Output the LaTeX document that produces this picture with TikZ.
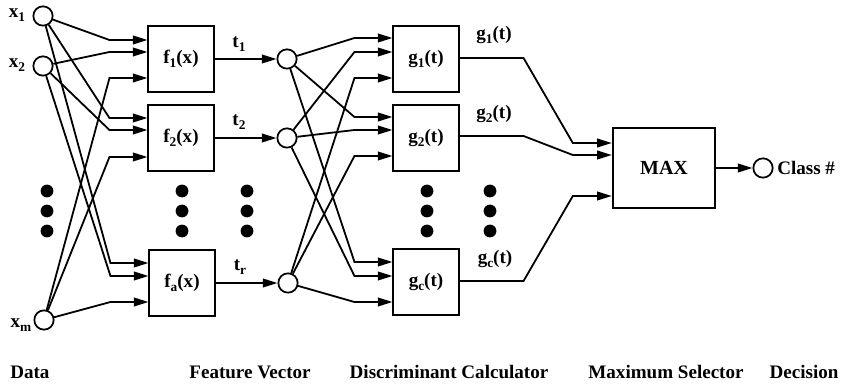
\documentclass[tikz,border=0pt]{standalone}
\usepackage{fontspec}
\setmainfont{Liberation Serif}
\usetikzlibrary{calc,arrows.meta}
\newcommand\sub[1]{\raisebox{-0.45ex}{\fontsize{10}{10}\selectfont #1}}
\begin{document}
\begin{tikzpicture}[x=0.75pt,y=-0.75pt,
  every node/.style={font=\fontsize{14.3}{16}\selectfont\bfseries},
  ball/.style={draw,circle,line width=1.3pt,minimum size=14.5pt,inner sep=0pt},
  box/.style={draw,line width=1.3pt,minimum width=49pt,minimum height=49pt,inner sep=0pt},
  lab/.style={inner sep=0pt},
  arr/.style={line width=1.35pt,-{Triangle[length=11pt,width=6.5pt]}},
  ln/.style={line width=1.35pt}]
\useasboundingbox (0,0) rectangle (842,388);
% input nodes
\node[ball] (x1) at (43,16) {};
\node[ball] (x2) at (43,66) {};
\node[ball] (xm) at (44,320) {};
\node[lab] (lx1) at (17,15) {x\sub{1}};
\node[lab] (lx2) at (17,65) {x\sub{2}};
\node[lab] (lxm) at (21,325) {x\sub{m}};
% feature boxes
\node[box] (f1) at (181,59) {f\sub{1}(x)};
\node[box] (f2) at (181,138) {f\sub{2}(x)};
\node[box] (fa) at (182,283) {f\sub{a}(x)};
% feature circles
\node[ball] (h1) at (287,59) {};
\node[ball] (h2) at (287,138) {};
\node[ball] (hr) at (288,283) {};
\node[lab] (t1) at (239,44) {t\sub{1}};
\node[lab] (t2) at (239,122) {t\sub{2}};
\node[lab] (tr) at (240,267) {t\sub{r}};
% discriminant boxes
\node[box] (g1) at (426,59) {g\sub{1}(t)};
\node[box] (g2) at (426,138) {g\sub{2}(t)};
\node[box] (gc) at (426,282) {g\sub{c}(t)};
\node[lab] (lg1) at (494,35) {g\sub{1}(t)};
\node[lab] (lg2) at (494,114) {g\sub{2}(t)};
\node[lab] (lgc) at (495,259) {g\sub{c}(t)};
% max
\node[draw,line width=1.3pt,minimum width=77pt,minimum height=60pt] (max) at (664,168) {\fontsize{15}{17}\selectfont MAX};
\node[ball] (cls) at (763,168) {};
\node[lab,anchor=west] (clab) at (777,168) {Class \#};
% inputs -> f boxes
\foreach \f/\oa/\ob/\oc in {f1/-19/-7/19, f2/-20/-8/19, fa/-20/-7/19} {
  \draw[arr] (x1) -- ($(\f.west)+(-38,\oa)$) -- ($(\f.west)+(0,\oa)$);
  \draw[arr] (x2) -- ($(\f.west)+(-38,\ob)$) -- ($(\f.west)+(0,\ob)$);
  \draw[arr] (xm) -- ($(\f.west)+(-38,\oc)$) -- ($(\f.west)+(0,\oc)$);
}
% f -> feature circles
\draw[arr] (f1) -- (h1);
\draw[arr] (f2) -- (h2);
\draw[arr] (fa) -- (hr);
% feature -> g boxes
\foreach \g/\oa/\ob/\oc in {g1/-21/-7/19, g2/-21/-8/18, gc/-20/-6/20} {
  \draw[arr] (h1) -- ($(\g.west)+(-38,\oa)$) -- ($(\g.west)+(0,\oa)$);
  \draw[arr] (h2) -- ($(\g.west)+(-38,\ob)$) -- ($(\g.west)+(0,\ob)$);
  \draw[arr] (hr) -- ($(\g.west)+(-38,\oc)$) -- ($(\g.west)+(0,\oc)$);
}
% g -> max
\draw[arr] ($(g1.east)+(0,-1)$) -- ++(64,0) -- ($(max.west)+(-39,-25)$) -- ($(max.west)+(0,-25)$);
\draw[arr] ($(g2.east)+(0,-2)$) -- ++(64,0) -- ($(max.west)+(-39,-13)$) -- ($(max.west)+(0,-13)$);
\draw[arr] ($(gc.east)+(0,-1)$) -- ++(64,0) -- ($(max.west)+(-39,28)$) -- ($(max.west)+(0,28)$);
\draw[arr] (max) -- (cls);
% dots
\foreach \x in {47,182,247,427,490}
  \foreach \y in {191,211,231}
    \fill (\x,\y) circle[radius=4.8pt];
% bottom captions
\node[lab,anchor=west] (c1) at (10,372) {Data};
\node[lab] (c2) at (250,372) {Feature Vector};
\node[lab] (c3) at (449,372) {Discriminant Calculator};
\node[lab] (c4) at (666,372) {Maximum Selector};
\node[lab] (c5) at (804,372) {Decision};
\end{tikzpicture}
\end{document}
